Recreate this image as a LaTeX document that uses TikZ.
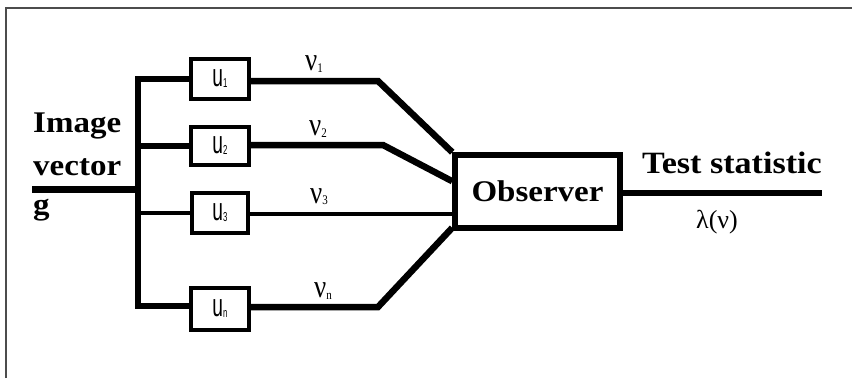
\documentclass[tikz,border=0pt]{standalone}
\usepackage{fontspec}
\setmainfont{Liberation Serif}
\newfontfamily\sansf{Liberation Sans}
\begin{document}
\begin{tikzpicture}[x=1pt,y=-1pt,
  thickw/.style={line width=6.5pt},
  thinw/.style={line width=4.8pt},
  ubox/.style={draw, line width=3.2pt, minimum width=58pt, minimum height=40pt, inner sep=0pt, fill=white},
  obox/.style={draw, line width=5.5pt, minimum width=165pt, minimum height=73pt, inner sep=0pt, fill=white},
  big/.style={font=\fontsize{30}{30}\selectfont\bfseries, xscale=1.1, inner sep=0pt},
  ulab/.style={font=\sansf\fontsize{32}{32}\selectfont, xscale=0.6, inner sep=0pt},
  vlab/.style={font=\fontsize{27}{27}\selectfont, yscale=1.2, inner sep=0pt},
  frame/.style={draw=black!70, line width=1.5pt}
]
\useasboundingbox (0,0) rectangle (852,378);
\draw[frame] (6,378) -- (6,8) -- (852,8);

% bus
\coordinate (gin) at (32,189);
\coordinate (bj) at (138,189);
\coordinate (bt) at (138,79);
\coordinate (bb) at (138,306);
\draw[line width=7pt] (gin) -- (bj);
\draw[line width=5.5pt, line cap=rect] (bt) -- (bb);

% filter boxes
\node[ubox] (u1) at (220,79) {};
\node[ubox, minimum height=38pt] (u2) at (220,146) {};
\node[ubox, minimum width=56pt] (u3) at (220,213) {};
\node[ubox, minimum height=42pt] (un) at (220,309) {};
\node[ulab] at (u1) {u\raisebox{-1pt}{\fontsize{13}{13}\selectfont 1}};
\node[ulab] at (u2) {u\raisebox{-1pt}{\fontsize{13}{13}\selectfont 2}};
\node[ulab] at (u3) {u\raisebox{-1pt}{\fontsize{13}{13}\selectfont 3}};
\node[ulab] at (un) {u\raisebox{-1pt}{\fontsize{13}{13}\selectfont n}};

% branches
\draw[thickw] (bt) -- (u1.west);
\draw[thickw] (138,146) -- (u2.west);
\draw[thinw] (138,213) -- (u3.west);
\draw[thickw] (bb) -- (un.west |- bb);

% observer
\node[obox] (obs) at (537.5,191.5) {};
\node[big] at (obs) {Observer};

% outputs to observer
\coordinate (k1) at (378,81);
\coordinate (k2) at (383,145);
\coordinate (kn) at (378,307);
\draw[thickw, line join=miter] (u1.east |- k1) -- (k1) -- (obs.north west);
\draw[thickw, line join=miter] (u2.east |- k2) -- (k2) -- ([yshift=-29pt]obs.north west);
\draw[thinw] (u3.east |- 0,214) -- (obs.west |- 0,214);
\draw[thickw, line join=miter] (un.east |- kn) -- (kn) -- ([yshift=3pt]obs.south west);

% output
\coordinate (outend) at (822,193);
\draw[thickw] (obs.east |- outend) -- (outend);

% labels
\node[vlab] (l1) at (314,64) {ν\raisebox{-1pt}{\fontsize{11}{11}\selectfont 1}};
\node[vlab] (l2) at (318,129) {ν\raisebox{-1pt}{\fontsize{11}{11}\selectfont 2}};
\node[vlab] (l3) at (319,197) {ν\raisebox{-1pt}{\fontsize{11}{11}\selectfont 3}};
\node[vlab] (ln) at (323,291) {ν\raisebox{-1pt}{\fontsize{11}{11}\selectfont n}};

\node[big, anchor=base west] (im) at (33,132) {Image};
\node[big, anchor=base west] (ve) at (33,175) {vector};
\node[big, anchor=base west] (gg) at (33,214) {g};

\node[big, font=\fontsize{31}{31}\selectfont\bfseries, anchor=base] (ts) at (732,173) {Test statistic};
\node[font=\fontsize{26}{26}\selectfont, inner sep=0pt] (lam) at (717,222) {λ(ν)};
\end{tikzpicture}
\end{document}
